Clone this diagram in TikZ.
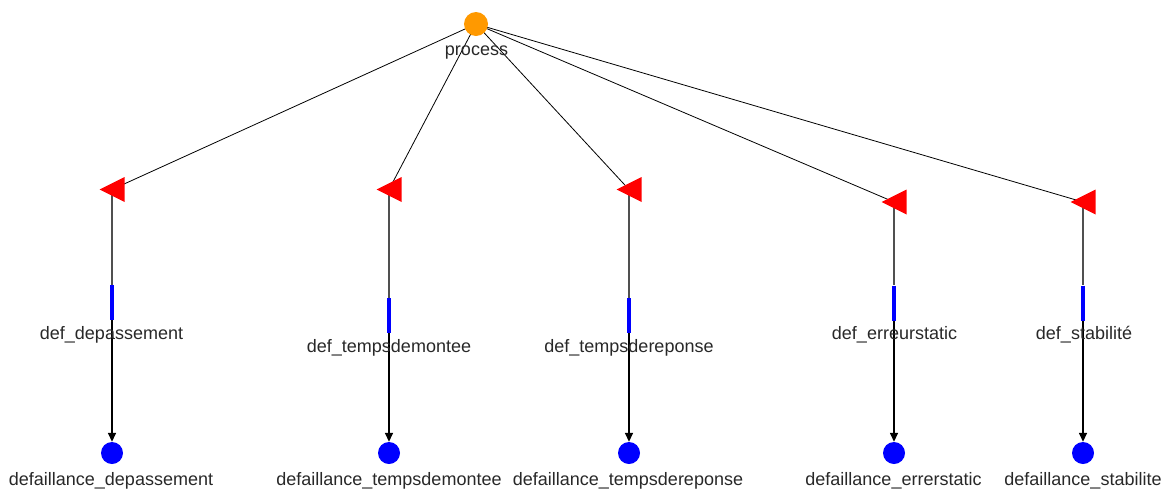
\documentclass[tikz,border=0pt]{standalone}
\usepackage{fontspec}
\setmainfont{Liberation Sans}
\usetikzlibrary{shapes.geometric,arrows.meta,backgrounds}
\definecolor{procorange}{RGB}{255,153,0}
\definecolor{tabred}{RGB}{255,0,0}
\definecolor{barblue}{RGB}{0,0,255}
\definecolor{txt}{RGB}{40,40,40}
\definecolor{stem}{RGB}{80,80,80}
\begin{document}
\begin{tikzpicture}[x=1pt,y=-1pt,
 procnode/.style={circle,fill=procorange,minimum size=24pt,inner sep=0pt},
 failnode/.style={circle,fill=barblue,minimum size=22pt,inner sep=0pt},
 trinode/.style={isosceles triangle,shape border rotate=180,isosceles triangle stretches,fill=tabred,minimum width=25pt,minimum height=25pt,inner sep=0pt,anchor=apex},
 barnode/.style={rectangle,fill=barblue,minimum width=4pt,minimum height=35pt,inner sep=0pt},
 lbl/.style={font=\fontsize{18}{20}\selectfont,text=txt,inner sep=0pt,anchor=base},
 link/.style={draw=black,line width=0.8pt},
 stemline/.style={draw=stem,line width=1.5pt},
 flow/.style={draw=black,line width=1.5pt,-{Triangle[length=9pt,width=8pt]}}
]
\useasboundingbox (0,0) rectangle (1165,488);
% top node
\node[procnode] (p) at (476,24) {};
\node[lbl] (pl) at (476.5,55) {process};
% triangles (apex at left)
\node[trinode] (t1) at (99,189.5) {};
\node[trinode] (t2) at (376,189.5) {};
\node[trinode] (t3) at (616,189.5) {};
\node[trinode] (t4) at (881,202) {};
\node[trinode] (t5) at (1070,202) {};
% bars
\node[barnode] (b1) at (112,302.5) {};
\node[barnode] (b2) at (389,315.5) {};
\node[barnode] (b3) at (629,315.5) {};
\node[barnode] (b4) at (894,303) {};
\node[barnode] (b5) at (1083,303) {};
% bar labels
\node[lbl] (l1) at (111.5,339.5) {def\_depassement};
\node[lbl] (l2) at (389,352) {def\_tempsdemontee};
\node[lbl] (l3) at (629,352) {def\_tempsdereponse};
\node[lbl] (l4) at (894.5,339.5) {def\_erreurstatic};
\node[lbl] (l5) at (1084,339.5) {def\_stabilité};
% failure circles
\node[failnode] (f1) at (112,453) {};
\node[failnode] (f2) at (389,453) {};
\node[failnode] (f3) at (629,453) {};
\node[failnode] (f4) at (894,453) {};
\node[failnode] (f5) at (1083,453) {};
% failure labels
\node[lbl] (fl1) at (111,485) {defaillance\_depassement};
\node[lbl] (fl2) at (389,485) {defaillance\_tempsdemontee};
\node[lbl] (fl3) at (628,485) {defaillance\_tempsdereponse};
\node[lbl] (fl4) at (893.5,485) {defaillance\_errerstatic};
\node[lbl] (fl5) at (1083,485) {defaillance\_stabilite};
% connectors
\begin{scope}[on background layer]
\foreach \i in {1,...,5}{
  \draw[link] (p.center) -- (t\i.apex -| b\i.north);
  \draw[stemline] (t\i.apex -| b\i.north) -- (b\i.north);
  \draw[flow] (b\i.south) -- (f\i);
}
\end{scope}
\end{tikzpicture}
\end{document}
